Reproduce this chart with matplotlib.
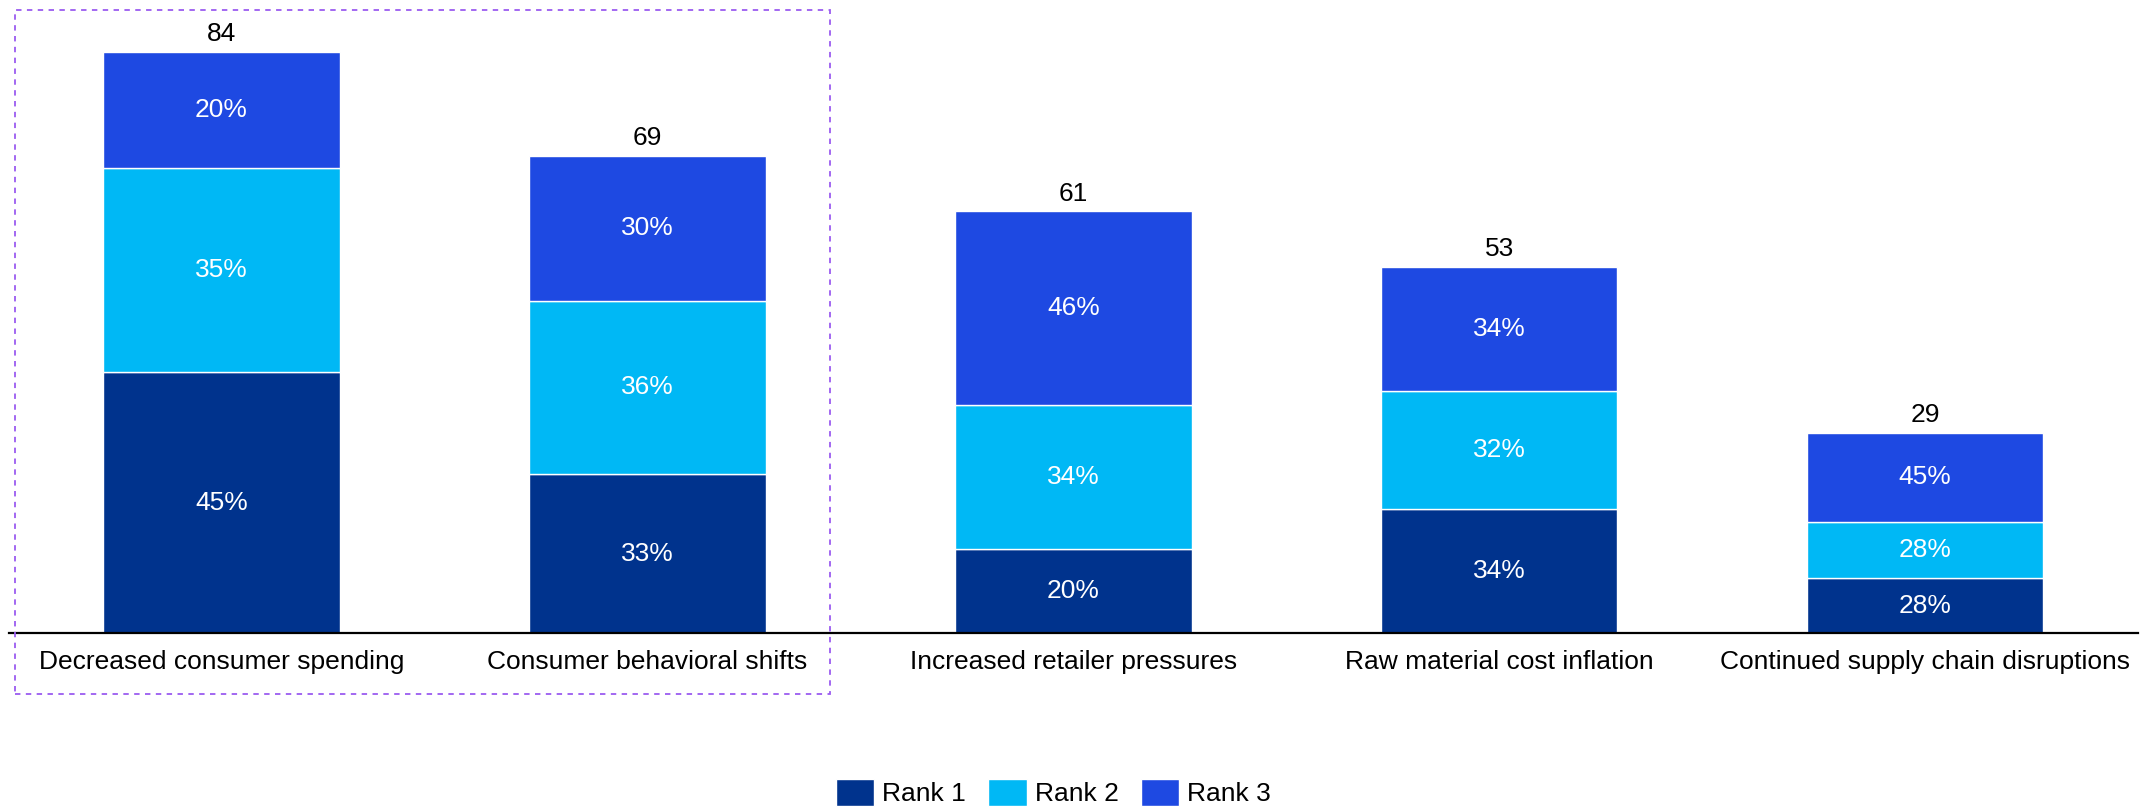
import matplotlib.pyplot as plt
import matplotlib.patches as mpatches
import numpy as np

plt.rcParams['font.family'] = ['Liberation Sans', 'DejaVu Sans']

categories = ['Decreased consumer spending', 'Consumer behavioral shifts',
              'Increased retailer pressures', 'Raw material cost inflation',
              'Continued supply chain disruptions']
totals = [84, 69, 61, 53, 29]
rank1 = [45, 33, 20, 34, 28]
rank2 = [35, 36, 34, 32, 28]
rank3 = [20, 30, 46, 34, 45]
series = ['Rank 1', 'Rank 2', 'Rank 3']

colors = ['#00338D', '#00B8F5', '#1E49E2']  # dark blue, cyan, bright blue

fig = plt.figure(figsize=(21.5, 8.07), dpi=100)
ax = fig.add_axes([0.004, 0.215, 0.9905, 0.785])

x = np.arange(len(categories))
tot = np.array(totals, dtype=float)
# percentages don't always sum to 100, so scale each bar to its total
pct_sum = np.array(rank1) + np.array(rank2) + np.array(rank3)
bottom = np.zeros(len(categories))

for pct, color, name in zip([rank1, rank2, rank3], colors, series):
    heights = tot * np.array(pct) / pct_sum
    ax.bar(x, heights, bottom=bottom, width=0.555, color=color,
           edgecolor='white', linewidth=1, label=name)
    for xi, b, h, p in zip(x, bottom, heights, pct):
        ax.text(xi, b + h / 2, f'{p}%', ha='center', va='center',
                color='white', fontsize=19)
    bottom += heights

# totals above each bar
for xi, t in zip(x, totals):
    ax.annotate(f'{t}', (xi, t), xytext=(0, 4), textcoords='offset points',
                ha='center', va='bottom', fontsize=19, color='black')

ax.set_xlim(-0.5, 4.5)
ax.set_ylim(0, 91.5)
ax.set_xticks(x)
ax.set_xticklabels(categories, fontsize=19)
ax.tick_params(axis='x', length=0, pad=12)
ax.set_yticks([])
for s in ['top', 'left', 'right']:
    ax.spines[s].set_visible(False)
ax.spines['bottom'].set_linewidth(1.6)
ax.spines['bottom'].set_color('black')

# dashed highlight box around first two categories
box = mpatches.Rectangle((0.007, 0.14), 0.379, 0.848, transform=fig.transFigure,
                         fill=False, edgecolor='#9B5CF0', linestyle=(0, (3, 3)),
                         linewidth=1.3)
fig.patches.append(box)

fig.legend(loc='center', bbox_to_anchor=(0.49, 0.018), ncol=3, frameon=False,
           fontsize=19, handlelength=1.45, handleheight=1.25,
           handletextpad=0.3, columnspacing=0.85)

plt.savefig('out.png', dpi=100)
